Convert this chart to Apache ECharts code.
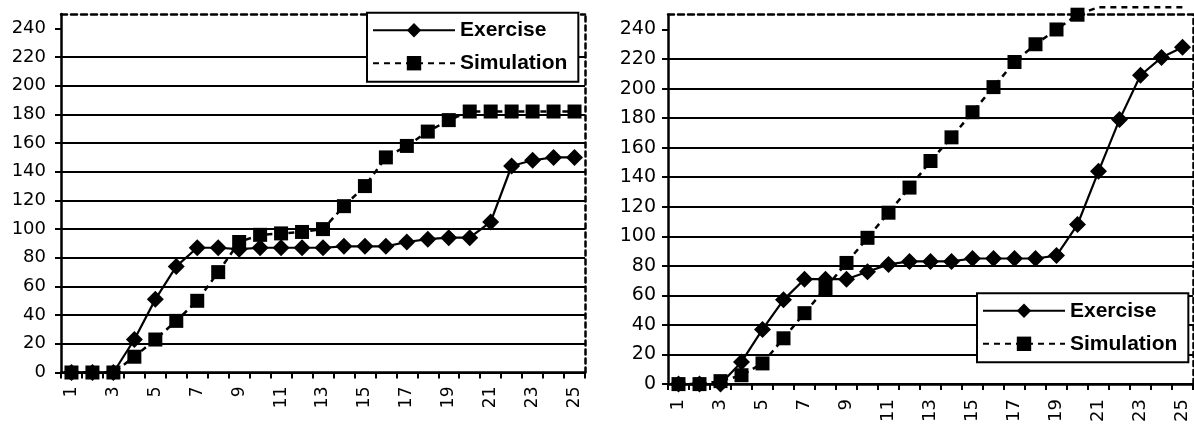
<!DOCTYPE html>
<html>
<head>
<meta charset="utf-8">
<script src="https://cdn.jsdelivr.net/npm/echarts@6/dist/echarts.min.js"></script>
<style>
html,body{margin:0;padding:0;background:#fff;}
#chart{width:1194px;height:425px;}
</style>
</head>
<body>
<div id="chart"></div>
<script>
// ---- data ----
const categories = ['1','2','3','4','5','6','7','8','9','10','11','12','13','14','15','16','17','18','19','20','21','22','23','24','25'];
const yTicks = [0,20,40,60,80,100,120,140,160,180,200,220,240];
const yMax = 250;
const seriesNames = ['Exercise','Simulation'];
const exerciseLeft   = [0,0,0,23,51,74,87,87,86,87,87,87,87,88,88,88,91,93,94,94,105,144,148,150,150];
const simulationLeft = [0,0,0,11,23,36,50,70,91,96,97,98,100,116,130,150,158,168,176,182,182,182,182,182,182];
const exerciseRight   = [0,0,0,15,37,57,71,71,71,76,81,83,83,83,85,85,85,85,87,108,144,179,209,221,228];
// values after point 20 run off the top of the plot (drawn clamped just above it)
const simulationRight = [0,0,2,6,14,31,48,65,82,99,116,133,151,167,184,201,218,230,240,250,255,255,255,255,255];

// ---- styling ----
const FONT = 'DejaVu Sans';
const LEGEND_FONT = 'Liberation Sans';
const BLACK = '#000';

function xAxes(gridIndex, labelSize, labelMargin) {
  return [
    {
      type: 'category', gridIndex, data: categories, boundaryGap: true, position: 'bottom',
      axisLine: { show: true, onZero: false, lineStyle: { color: BLACK, width: 2.5 } },
      axisTick: { show: true, interval: 0, alignWithLabel: false, length: 6, lineStyle: { color: BLACK, width: 2 } },
      axisLabel: { interval: 1, rotate: 90, margin: labelMargin, color: BLACK, fontFamily: FONT, fontSize: labelSize },
      splitLine: { show: false }
    },
    {
      type: 'category', gridIndex, data: categories, boundaryGap: true, position: 'top',
      axisLine: { show: true, onZero: false, lineStyle: { color: BLACK, width: 2.5, type: [6, 4] } },
      axisTick: { show: false }, axisLabel: { show: false }, splitLine: { show: false }
    }
  ];
}
function yAxes(gridIndex, labelSize, labelMargin) {
  const lineColors = yTicks.map(() => BLACK).concat(['rgba(0,0,0,0)']);
  return [
    {
      type: 'value', gridIndex, min: 0, max: yMax, interval: 20, position: 'left',
      axisLine: { show: true, onZero: false, lineStyle: { color: BLACK, width: 2.5 } },
      axisTick: { show: true, length: 6, customValues: yTicks, lineStyle: { color: BLACK, width: 2 } },
      axisLabel: { margin: labelMargin, color: BLACK, fontFamily: FONT, fontSize: labelSize, customValues: yTicks },
      splitLine: { show: true, showMaxLine: false, lineStyle: { color: lineColors, width: 2 } }
    },
    {
      type: 'value', gridIndex, min: 0, max: yMax, position: 'right',
      axisLine: { show: true, onZero: false, lineStyle: { color: BLACK, width: 2.5, type: [5, 4] } },
      axisTick: { show: false }, axisLabel: { show: false }, splitLine: { show: false }
    }
  ];
}
function lineSeries(name, values, xIdx, yIdx, isSim) {
  return {
    name, type: 'line', xAxisIndex: xIdx, yAxisIndex: yIdx, clip: false,
    data: values.map(v => v > yMax ? { value: v, symbol: 'none' } : v),
    symbol: isSim ? 'rect' : 'diamond',
    symbolSize: isSim ? [14, 14] : [17, 17],
    showSymbol: true,
    showAllSymbol: true,
    itemStyle: { color: BLACK },
    lineStyle: { color: BLACK, width: isSim ? 2.5 : 2.2, type: isSim ? [6, 5] : 'solid' },
    emphasis: { disabled: true },
    animation: false
  };
}
function legend(left, top) {
  return {
    left, top, orient: 'vertical', data: seriesNames,
    itemWidth: 82, itemHeight: 18, itemGap: 12,
    padding: [7, 11, 8, 5],
    borderColor: BLACK, borderWidth: 2, backgroundColor: '#fff',
    selectedMode: false,
    textStyle: { color: BLACK, fontFamily: LEGEND_FONT, fontWeight: 'bold', fontSize: 21, lineHeight: 20 }
  };
}

const option = {
  backgroundColor: '#fff',
  animation: false,
  grid: [
    { left: 61, top: 14, width: 524, height: 358.5 },
    { left: 668, top: 14.7, width: 525, height: 373 }
  ],
  xAxis: [].concat(xAxes(0, 17, 14), xAxes(1, 18, 15)),
  yAxis: [].concat(yAxes(0, 18, 15), yAxes(1, 19, 12)),
  legend: [legend(367, 12.7), legend(977, 293.3)],
  series: [
    lineSeries(seriesNames[0], exerciseLeft, 0, 0, false),
    lineSeries(seriesNames[1], simulationLeft, 0, 0, true),
    lineSeries(seriesNames[0], exerciseRight, 2, 2, false),
    lineSeries(seriesNames[1], simulationRight, 2, 2, true)
  ]
};

const chart = echarts.init(document.getElementById('chart'), null, { renderer: 'canvas' });
chart.setOption(option);
</script>
</body>
</html>
